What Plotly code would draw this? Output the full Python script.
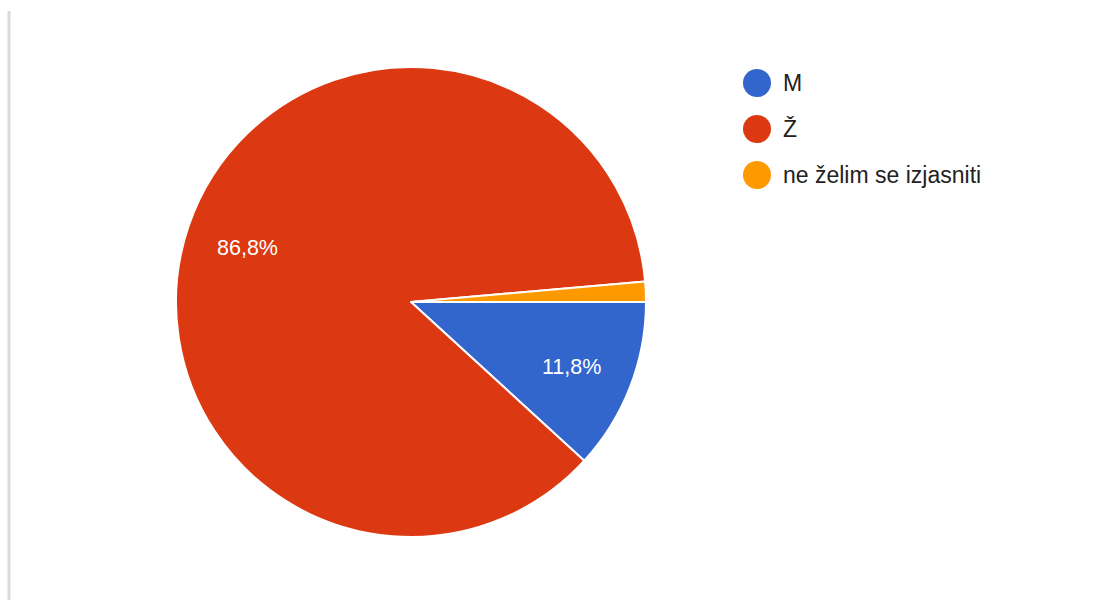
import math
import plotly.graph_objects as go

# Survey answers: gender of respondents
labels = ["M", "Ž", "ne želim se izjasniti"]
counts = [17, 125, 2]
colors = ["#3366cc", "#dc3912", "#ff9900"]

W, H = 1119, 600
cx, cy, r = 411, 302, 235          # pie centre / radius in pixels
legend_x, legend_y0, legend_dy = 757, 83, 46
FONT = "Liberation Sans, Arial, sans-serif"

total = sum(counts)
shares = [c / total for c in counts]

fig = go.Figure(
    go.Pie(
        labels=labels,
        values=counts,
        marker=dict(colors=colors, line=dict(color="white", width=2)),
        sort=False,
        direction="clockwise",
        rotation=90,
        textinfo="none",
        hoverinfo="label+percent",
        showlegend=False,
        domain=dict(
            x=[(cx - r) / W, (cx + r) / W],
            y=[(H - cy - r) / H, (H - cy + r) / H],
        ),
    )
)

annotations = []
shapes = []

# percentage labels inside the larger slices
start = 0.0
for share in shares:
    mid = (start + share / 2) * 2 * math.pi   # clockwise from 3 o'clock
    start += share
    if share < 0.05:
        continue
    px = cx + 0.735 * r * math.cos(mid)
    py = cy + 0.735 * r * math.sin(mid) + 2
    annotations.append(
        dict(
            x=px / W, y=1 - py / H, xref="paper", yref="paper",
            text=f"{share * 100:.1f}%".replace(".", ","),
            showarrow=False,
            font=dict(family=FONT, size=21.5, color="white"),
            xanchor="center", yanchor="middle",
        )
    )

# legend with round markers
for i, (lab, col) in enumerate(zip(labels, colors)):
    ly = legend_y0 + i * legend_dy
    shapes.append(
        dict(
            type="circle", xref="paper", yref="paper",
            x0=(legend_x - 14) / W, x1=(legend_x + 14) / W,
            y0=1 - (ly + 14) / H, y1=1 - (ly - 14) / H,
            fillcolor=col, line=dict(width=0),
        )
    )
    annotations.append(
        dict(
            x=(legend_x + 24) / W, y=1 - ly / H, xref="paper", yref="paper",
            text=lab, showarrow=False,
            font=dict(family=FONT, size=23, color="#222222"),
            xanchor="left", yanchor="middle",
        )
    )

# thin grey rule on the left edge
shapes.append(
    dict(
        type="line", xref="paper", yref="paper",
        x0=9 / W, x1=9 / W, y0=0, y1=1 - 11 / H,
        line=dict(color="#dadada", width=3),
    )
)

fig.update_layout(
    width=W, height=H,
    margin=dict(l=0, r=0, t=0, b=0),
    paper_bgcolor="white",
    plot_bgcolor="white",
    shapes=shapes,
    annotations=annotations,
)

fig.write_html("out.html")
